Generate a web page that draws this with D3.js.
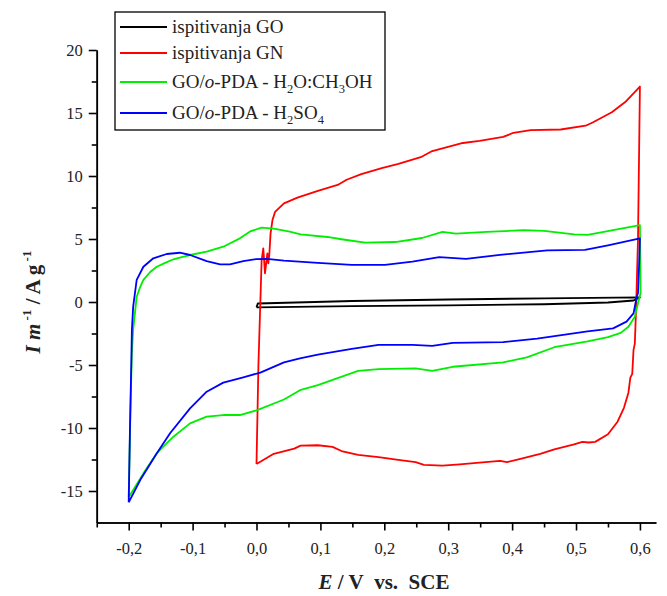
<!DOCTYPE html>
<html><head><meta charset="utf-8">
<script src="https://cdn.jsdelivr.net/npm/d3@7"></script>
<style>body{margin:0;background:#fff} svg{display:block}</style>
</head><body><svg id="c" width="667" height="596"></svg>
<script>
// ---- data ----
const xTicks = [-0.2,-0.1,0.0,0.1,0.2,0.3,0.4,0.5,0.6];
const xMinorTicks = [-0.25,-0.15,-0.05,0.05,0.15,0.25,0.35,0.45,0.55];
const yTicks = [-15,-10,-5,0,5,10,15,20];
const yMinorTicks = [-12.5,-7.5,-2.5,2.5,7.5,12.5,17.5];
const seriesColors = ["#000000","#ff0000","#00ee00","#0000ff"];

// E / V, I / A g^-1 pairs (full CV loops)
const cvGO = [[0.0,-0.42],[0.002,-0.12],[0.15,0.08],[0.3,0.2],[0.45,0.29],[0.6,0.37],
  [0.59,0.12],[0.55,-0.04],[0.45,-0.18],[0.3,-0.26],[0.15,-0.32],[0.0,-0.42]];

const cvGN = [[0.0,-12.85],[0.003,-5],[0.008,3.3],[0.0106,4.26],[0.0133,2.28],[0.017,3.86],
  [0.0185,3.07],[0.02,3.73],[0.022,5.45],[0.025,6.5],[0.029,7.15],[0.043,7.83],[0.064,8.28],
  [0.096,8.82],[0.127,9.29],[0.141,9.7],[0.164,10.15],[0.196,10.63],[0.222,10.96],[0.257,11.49],
  [0.275,11.98],[0.323,12.62],[0.349,12.79],[0.386,13.1],[0.402,13.43],[0.429,13.64],[0.476,13.69],
  [0.515,13.99],[0.526,14.25],[0.556,15.06],[0.577,15.87],[0.6,17.1],
  [0.597,5],[0.594,-0.5],[0.592,-3.3],[0.590,-3.8],[0.588,-5.7],[0.585,-6.0],[0.582,-7.2],
  [0.575,-8.4],[0.565,-9.5],[0.55,-10.5],[0.53,-11.1],[0.52,-11.15],[0.51,-11.1],[0.497,-11.3],
  [0.466,-11.7],[0.444,-12.05],[0.413,-12.45],[0.392,-12.71],[0.381,-12.61],[0.349,-12.75],
  [0.318,-12.88],[0.291,-12.98],[0.262,-12.93],[0.249,-12.71],[0.222,-12.53],[0.191,-12.32],
  [0.159,-12.13],[0.133,-11.83],[0.119,-11.5],[0.096,-11.37],[0.069,-11.4],[0.059,-11.64],
  [0.027,-12.05],[0.0,-12.85]];

const cvPdaMeOH = [[-0.200,-15.5],[-0.197,-8],[-0.195,-4],[-0.193,-2.2],[-0.1875,0.42],[-0.182,1.2],
  [-0.177,1.75],[-0.166,2.4],[-0.156,2.8],[-0.143,3.1],[-0.130,3.39],[-0.117,3.57],[-0.104,3.73],
  [-0.078,3.99],[-0.052,4.39],[-0.026,5.05],[-0.010,5.6],[0.008,5.91],[0.027,5.83],[0.052,5.58],
  [0.069,5.37],[0.111,5.16],[0.133,4.98],[0.170,4.71],[0.217,4.76],[0.259,5.08],[0.291,5.56],
  [0.312,5.43],[0.360,5.56],[0.418,5.70],[0.450,5.64],[0.497,5.37],[0.518,5.32],[0.558,5.70],
  [0.600,6.1],
  [0.601,0.7],[0.597,-0.1],[0.592,-1.17],[0.582,-1.96],[0.570,-2.45],[0.550,-2.78],[0.518,-3.13],
  [0.466,-3.59],[0.423,-4.39],[0.386,-4.79],[0.307,-5.14],[0.275,-5.46],[0.249,-5.27],[0.191,-5.33],
  [0.159,-5.46],[0.096,-6.6],[0.068,-7.0],[0.043,-7.74],[0.0,-8.6],[-0.026,-8.97],[-0.052,-8.97],
  [-0.078,-9.1],[-0.104,-9.63],[-0.130,-10.69],[-0.156,-12.0],[-0.177,-13.6],[-0.200,-15.5]];

const cvPdaH2SO4 = [[-0.200,-15.9],[-0.198,-10],[-0.196,-5],[-0.195,-2.2],[-0.193,-0.37],
  [-0.1875,1.75],[-0.177,2.8],[-0.1615,3.47],[-0.1405,3.81],[-0.12,3.91],[-0.104,3.73],
  [-0.078,3.25],[-0.057,2.99],[-0.0415,2.99],[-0.0207,3.25],[0.0,3.41],[0.016,3.42],[0.043,3.29],
  [0.096,3.10],[0.149,2.94],[0.201,2.94],[0.244,3.21],[0.286,3.56],[0.328,3.42],[0.381,3.74],
  [0.455,4.09],[0.514,4.13],[0.55,4.5],[0.600,5.05],
  [0.599,3.33],[0.597,0.7],[0.595,0.42],[0.590,-0.9],[0.579,-1.56],[0.558,-2.09],[0.518,-2.33],
  [0.439,-2.91],[0.386,-3.18],[0.307,-3.24],[0.275,-3.48],[0.244,-3.4],[0.191,-3.4],[0.149,-3.72],
  [0.096,-4.17],[0.068,-4.47],[0.043,-4.79],[0.006,-5.6],[-0.0207,-5.98],[-0.052,-6.4],
  [-0.078,-7.12],[-0.104,-8.44],[-0.135,-10.4],[-0.156,-12.0],[-0.182,-14.13],[-0.200,-15.9]];

const seriesData = [cvGO, cvGN, cvPdaMeOH, cvPdaH2SO4];

// ---- chart ----
const svg = d3.select("#c");
const FONT = "'Liberation Serif','DejaVu Serif',serif";
const x = d3.scaleLinear().domain([-0.25,0.625]).range([96.75,655.9]);
const y = d3.scaleLinear().domain([-17.5,20]).range([522.5,50]);
const fmt = d => (d < 0 ? "-" : "") + Math.abs(d).toFixed(1).replace(".", ",");

const line = d3.line().x(d => x(d[0])).y(d => y(d[1]));
svg.append("g").selectAll("path").data(seriesData).join("path")
  .attr("d", line).attr("fill","none")
  .attr("stroke",(d,i)=>seriesColors[i]).attr("stroke-width",1.8)
  .attr("stroke-linejoin","round");

// axes
const gx = svg.append("g").attr("transform",`translate(0,${y(-17.5)})`)
  .call(d3.axisBottom(x).tickValues(xTicks).tickSize(8).tickSizeOuter(0).tickPadding(12).tickFormat(fmt));
const gxm = svg.append("g").attr("transform",`translate(0,${y(-17.5)})`)
  .call(d3.axisBottom(x).tickValues(xMinorTicks).tickSize(5).tickSizeOuter(0).tickFormat(""));
const gy = svg.append("g").attr("transform",`translate(${x(-0.25)},0)`)
  .call(d3.axisLeft(y).tickValues(yTicks).tickSize(8).tickSizeOuter(0).tickPadding(6).tickFormat(d=>d<0?"-"+Math.abs(d):d));
const gym = svg.append("g").attr("transform",`translate(${x(-0.25)},0)`)
  .call(d3.axisLeft(y).tickValues(yMinorTicks).tickSize(5).tickSizeOuter(0).tickFormat(""));
[gx,gxm,gy,gym].forEach(g=>{
  g.selectAll("path,line").attr("stroke","#000").attr("stroke-width",1.6);
  g.selectAll("text").attr("font-family",FONT).attr("font-size",16.5).attr("fill","#222");
});

// axis titles
const xt = svg.append("text").attr("x",384).attr("y",589).attr("text-anchor","middle")
  .attr("font-family",FONT).attr("font-size",21).attr("font-weight","bold").attr("fill","#222")
  .attr("xml:space","preserve");
xt.append("tspan").attr("font-style","italic").text("E");
xt.append("tspan").text(" / V\u2002vs.\u2002SCE");

const yt = svg.append("text").attr("transform","translate(40,302) rotate(-90)").attr("text-anchor","middle")
  .attr("font-family",FONT).attr("font-size",21).attr("font-weight","bold").attr("fill","#222");
yt.append("tspan").attr("font-style","italic").text("I m");
yt.append("tspan").attr("font-size",13).attr("dy",-9).text(" -1");
yt.append("tspan").attr("dy",9).text(" / A g");
yt.append("tspan").attr("font-size",13).attr("dy",-9).text(" -1");

// legend
const leg = svg.append("g");
leg.append("rect").attr("x",115).attr("y",12).attr("width",270).attr("height",118)
  .attr("fill","#fff").attr("stroke","#000").attr("stroke-width",1.3);
const rowsY = [27,53,82,113];
const labels = [
  [["ispitivanja GO"]],
  [["ispitivanja GN"]],
  [["GO/"],["o","i"],["-PDA - H"],["2","s"],["O:CH"],["3","s"],["OH"]],
  [["GO/"],["o","i"],["-PDA - H"],["2","s"],["SO"],["4","s"]]
];
rowsY.forEach((ry,i)=>{
  leg.append("line").attr("x1",120).attr("x2",167).attr("y1",ry).attr("y2",ry)
    .attr("stroke",seriesColors[i]).attr("stroke-width",1.8);
  const t = leg.append("text").attr("x",172).attr("y",ry+6)
    .attr("font-family",FONT).attr("font-size",19).attr("fill","#222");
  let sub = false;
  labels[i].forEach(p=>{
    const ts = t.append("tspan").text(p[0]);
    if (p[1]==="i") ts.attr("font-style","italic");
    if (p[1]==="s") { ts.attr("font-size",12.5).attr("dy",5); sub = true; }
    else if (sub) { ts.attr("dy",-5); sub = false; }
  });
});
</script></body></html>
